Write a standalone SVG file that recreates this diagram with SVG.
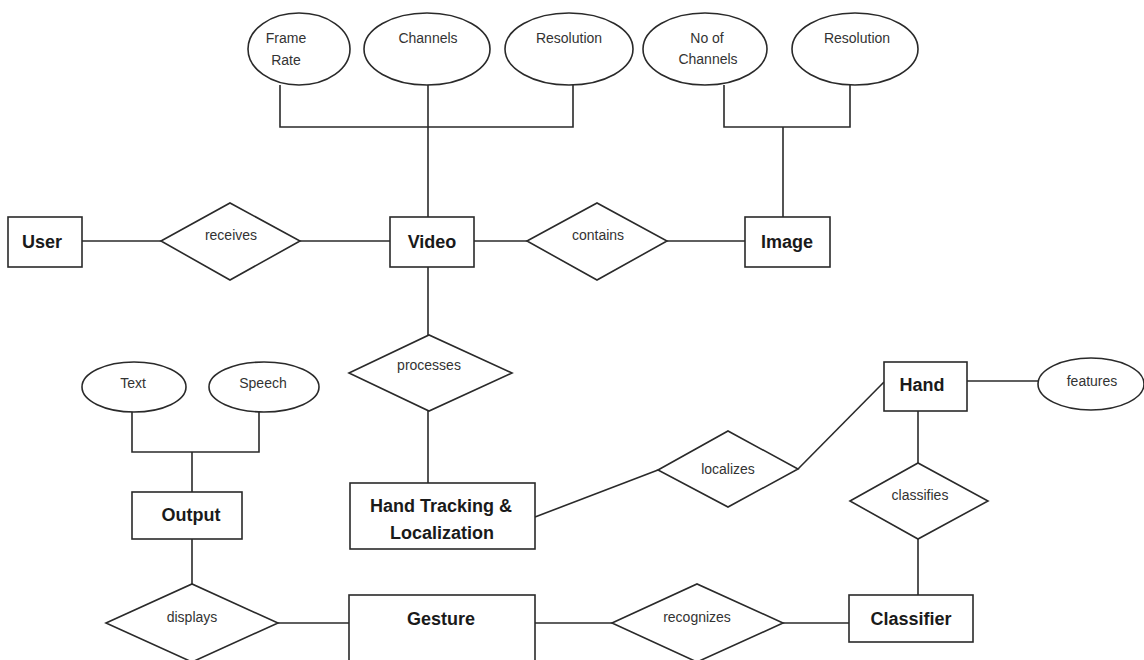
<svg xmlns="http://www.w3.org/2000/svg" width="1144" height="660" viewBox="0 0 1144 660">
  <style>
    .shape { fill: #ffffff; stroke: #2a2a2a; stroke-width: 1.6; }
    .link { fill: none; stroke: #2a2a2a; stroke-width: 1.6; }
    .ent { font-family: "Liberation Sans", Arial, sans-serif; font-weight: bold; font-size: 18px; fill: #1a1a1a; text-anchor: middle; }
    .lbl { font-family: "Liberation Sans", Arial, sans-serif; font-size: 14px; fill: #333333; text-anchor: middle; }
  </style>
  <rect width="1144" height="660" fill="#ffffff"/>

  <!-- connectors -->
  <g id="connectors">
    <!-- Video attributes -->
    <polyline class="link" points="280,85 280,127 573,127 573,85"/>
    <line class="link" x1="428" y1="85" x2="428" y2="217"/>
    <!-- Image attributes -->
    <polyline class="link" points="724,85 724,127 850,127 850,85"/>
    <line class="link" x1="783" y1="127" x2="783" y2="217"/>
    <!-- User - receives - Video -->
    <line class="link" x1="82" y1="241" x2="161" y2="241"/>
    <line class="link" x1="300" y1="241" x2="390" y2="241"/>
    <!-- Video - contains - Image -->
    <line class="link" x1="474" y1="241" x2="527" y2="241"/>
    <line class="link" x1="667" y1="241" x2="745" y2="241"/>
    <!-- Video - processes - Hand Tracking -->
    <line class="link" x1="428" y1="267" x2="428" y2="335"/>
    <line class="link" x1="428" y1="411" x2="428" y2="483"/>
    <!-- Hand Tracking - localizes - Hand -->
    <line class="link" x1="535" y1="517" x2="658" y2="470"/>
    <line class="link" x1="798" y1="469" x2="884" y2="382"/>
    <!-- Hand - features -->
    <line class="link" x1="967" y1="381" x2="1038" y2="381"/>
    <!-- Hand - classifies - Classifier -->
    <line class="link" x1="918" y1="411" x2="918" y2="463"/>
    <line class="link" x1="918" y1="539" x2="918" y2="595"/>
    <!-- Classifier - recognizes - Gesture -->
    <line class="link" x1="783" y1="623" x2="849" y2="623"/>
    <line class="link" x1="535" y1="623" x2="612" y2="623"/>
    <!-- Gesture - displays - Output -->
    <line class="link" x1="278" y1="623" x2="349" y2="623"/>
    <line class="link" x1="192" y1="539" x2="192" y2="584"/>
    <!-- Output attributes -->
    <polyline class="link" points="132,412 132,452 259,452 259,412"/>
    <line class="link" x1="192" y1="452" x2="192" y2="492"/>
  </g>

  <!-- attributes -->
  <g id="attr-frame-rate">
    <ellipse class="shape" cx="299" cy="49" rx="51" ry="36"/>
    <text class="lbl" x="286" y="43">Frame</text>
    <text class="lbl" x="286" y="65">Rate</text>
  </g>
  <g id="attr-channels">
    <ellipse class="shape" cx="427" cy="49" rx="63" ry="36"/>
    <text class="lbl" x="428" y="43">Channels</text>
  </g>
  <g id="attr-resolution-video">
    <ellipse class="shape" cx="569" cy="49" rx="64" ry="36"/>
    <text class="lbl" x="569" y="43">Resolution</text>
  </g>
  <g id="attr-no-of-channels">
    <ellipse class="shape" cx="705" cy="49" rx="62" ry="36"/>
    <text class="lbl" x="707" y="43">No of</text>
    <text class="lbl" x="708" y="64">Channels</text>
  </g>
  <g id="attr-resolution-image">
    <ellipse class="shape" cx="855" cy="49" rx="63" ry="36"/>
    <text class="lbl" x="857" y="43">Resolution</text>
  </g>
  <g id="attr-text">
    <ellipse class="shape" cx="134" cy="387" rx="52" ry="25"/>
    <text class="lbl" x="133" y="388">Text</text>
  </g>
  <g id="attr-speech">
    <ellipse class="shape" cx="264" cy="387" rx="55" ry="25"/>
    <text class="lbl" x="263" y="388">Speech</text>
  </g>
  <g id="attr-features">
    <ellipse class="shape" cx="1091" cy="384" rx="53" ry="26"/>
    <text class="lbl" x="1092" y="386">features</text>
  </g>

  <!-- entities -->
  <g id="ent-user">
    <rect class="shape" x="8" y="217" width="74" height="50"/>
    <text class="ent" x="42" y="248">User</text>
  </g>
  <g id="ent-video">
    <rect class="shape" x="390" y="217" width="84" height="50"/>
    <text class="ent" x="432" y="248">Video</text>
  </g>
  <g id="ent-image">
    <rect class="shape" x="745" y="217" width="85" height="50"/>
    <text class="ent" x="787" y="248">Image</text>
  </g>
  <g id="ent-output">
    <rect class="shape" x="132" y="492" width="110" height="47"/>
    <text class="ent" x="191" y="521">Output</text>
  </g>
  <g id="ent-hand-tracking">
    <rect class="shape" x="350" y="483" width="185" height="66"/>
    <text class="ent" x="441" y="512">Hand Tracking &amp;</text>
    <text class="ent" x="442" y="539">Localization</text>
  </g>
  <g id="ent-hand">
    <rect class="shape" x="884" y="362" width="83" height="49"/>
    <text class="ent" x="922" y="391">Hand</text>
  </g>
  <g id="ent-classifier">
    <rect class="shape" x="849" y="595" width="124" height="47"/>
    <text class="ent" x="911" y="625">Classifier</text>
  </g>
  <g id="ent-gesture">
    <rect class="shape" x="349" y="595" width="186" height="80"/>
    <text class="ent" x="441" y="625">Gesture</text>
  </g>

  <!-- relationships -->
  <g id="rel-receives">
    <polygon class="shape" points="161,241 230,203 300,241 230,280"/>
    <text class="lbl" x="231" y="240">receives</text>
  </g>
  <g id="rel-contains">
    <polygon class="shape" points="527,241 597,203 667,241 597,280"/>
    <text class="lbl" x="598" y="240">contains</text>
  </g>
  <g id="rel-processes">
    <polygon class="shape" points="349,373 429,335 512,373 429,411"/>
    <text class="lbl" x="429" y="370">processes</text>
  </g>
  <g id="rel-localizes">
    <polygon class="shape" points="658,470 728,431 798,469 728,507"/>
    <text class="lbl" x="728" y="474">localizes</text>
  </g>
  <g id="rel-classifies">
    <polygon class="shape" points="850,501 918,463 988,501 918,539"/>
    <text class="lbl" x="920" y="500">classifies</text>
  </g>
  <g id="rel-recognizes">
    <polygon class="shape" points="612,623 697,584 783,623 697,662"/>
    <text class="lbl" x="697" y="622">recognizes</text>
  </g>
  <g id="rel-displays">
    <polygon class="shape" points="106,623 192,584 278,623 192,662"/>
    <text class="lbl" x="192" y="622">displays</text>
  </g>
</svg>
